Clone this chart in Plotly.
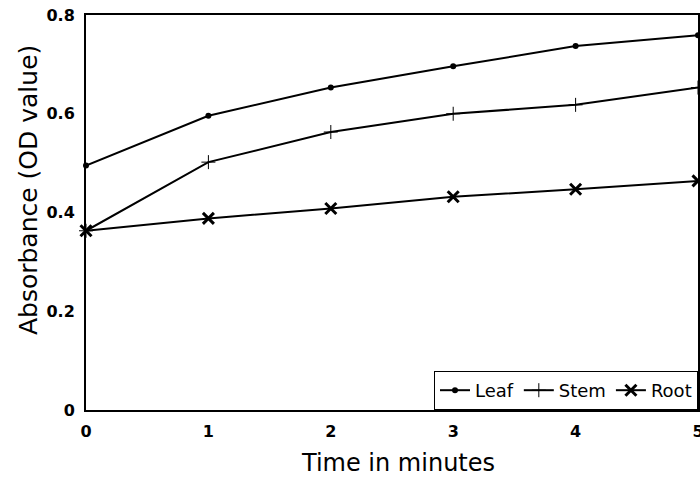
import plotly.graph_objects as go

time_min = [0, 1, 2, 3, 4, 5]
leaf = [0.495, 0.596, 0.653, 0.696, 0.737, 0.759]
stem = [0.363, 0.502, 0.563, 0.600, 0.618, 0.653]
root = [0.363, 0.388, 0.408, 0.432, 0.447, 0.464]

x_ticks = [0, 1, 2, 3, 4, 5]
x_ticktext = ["0", "1", "2", "3", "4", "5"]
y_ticks = [0, 0.2, 0.4, 0.6, 0.8]
y_ticktext = ["0", "0.2", "0.4", "0.6", "0.8"]

FONT = "DejaVu Sans"

fig = go.Figure()
fig.add_trace(go.Scatter(
    x=time_min, y=leaf, name="Leaf", mode="lines+markers",
    line=dict(color="black", width=2),
    marker=dict(symbol="circle", size=6, color="black"),
    cliponaxis=False,
))
fig.add_trace(go.Scatter(
    x=time_min, y=stem, name="Stem", mode="lines+markers",
    line=dict(color="black", width=2),
    marker=dict(symbol="cross-thin-open", size=10, color="black",
                line=dict(color="black", width=1)),
    cliponaxis=False,
))
fig.add_trace(go.Scatter(
    x=time_min, y=root, name="Root", mode="lines+markers",
    line=dict(color="black", width=2),
    marker=dict(symbol="x-thin-open", size=11, color="black",
                line=dict(color="black", width=3)),
    cliponaxis=False,
))

fig.update_layout(
    width=700, height=479,
    margin=dict(l=86, r=2, t=15, b=69, autoexpand=False),
    paper_bgcolor="white", plot_bgcolor="white",
    font=dict(family=FONT, color="black"),
    showlegend=True,
    legend=dict(
        orientation="h", x=1, y=0, xanchor="right", yanchor="bottom",
        bordercolor="black", borderwidth=1, bgcolor="white",
        font=dict(family=FONT, size=18, color="black"),
        itemwidth=30, tracegroupgap=0,
    ),
    xaxis=dict(
        range=[0, 5], tickvals=x_ticks, ticktext=x_ticktext,
        showgrid=False, zeroline=False, automargin=False,
        showline=True, linecolor="black", linewidth=2, mirror=True,
        ticks="", ticklabelstandoff=6, ticklabeloverflow="allow",
        tickfont=dict(family=FONT, size=16, weight="bold", color="black"),
    ),
    yaxis=dict(
        range=[0, 0.8], tickvals=y_ticks, ticktext=y_ticktext,
        showgrid=False, zeroline=False, automargin=False,
        showline=True, linecolor="black", linewidth=2, mirror=True,
        ticks="", ticklabelstandoff=6, ticklabeloverflow="allow",
        tickfont=dict(family=FONT, size=16, weight="bold", color="black"),
    ),
    annotations=[
        dict(
            text="Absorbance (OD value)", textangle=-90,
            xref="paper", yref="paper", x=-0.093, y=0.557,
            xanchor="center", yanchor="middle", showarrow=False,
            font=dict(family=FONT, size=25, color="black"),
        ),
        dict(
            text="Time in minutes",
            xref="paper", yref="paper", x=0.51, y=-0.135,
            xanchor="center", yanchor="middle", showarrow=False,
            borderpad=0,
            font=dict(family=FONT, size=24, color="black"),
        ),
    ],
)

fig.write_html(
    "out.html",
    config={"displayModeBar": False},
    post_script="document.body.style.margin='0';document.body.style.overflow='hidden';",
)
